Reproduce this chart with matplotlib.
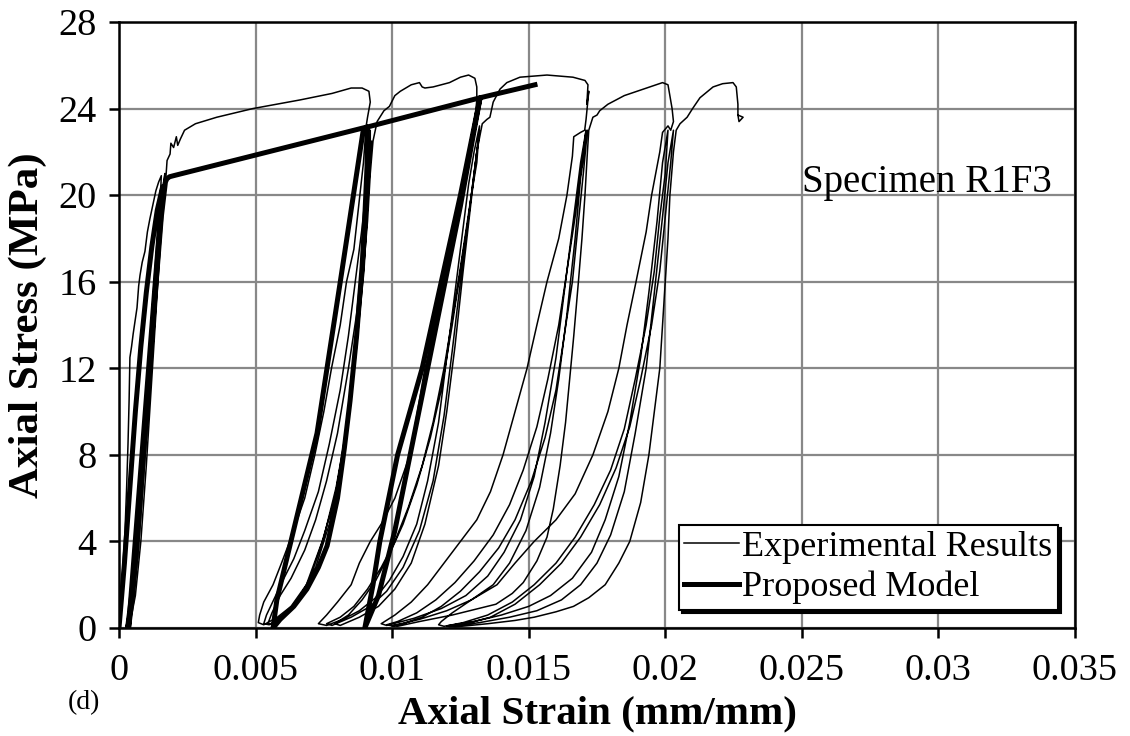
import matplotlib.pyplot as plt

plt.rcParams['font.family'] = ['Liberation Serif', 'DejaVu Serif']

# axis ticks
strain_ticks = [0, 0.005, 0.01, 0.015, 0.02, 0.025, 0.03, 0.035]
strain_labels = ['0', '0.005', '0.01', '0.015', '0.02', '0.025', '0.03', '0.035']
stress_ticks = [0, 4, 8, 12, 16, 20, 24, 28]

# ---- experimental results (strain, stress in MPa), read off the figure ----
# first cycles near the origin
exp_load0 = [(0.0, 0.0), (0.00008, 1.5), (0.00015, 3.0), (0.00022, 4.5), (0.00028, 6.5),
             (0.00033, 8.5), (0.00037, 10.5), (0.0004, 12.5), (0.00046, 13.0), (0.00052, 13.6),
             (0.0006, 14.3), (0.00066, 14.8), (0.00072, 15.8), (0.00077, 16.3), (0.00085, 16.9),
             (0.00095, 17.4), (0.00104, 18.3), (0.00113, 18.9), (0.00125, 19.6), (0.00135, 20.2),
             (0.00145, 20.6), (0.00155, 20.9)]
exp_c1 = [(0.0015, 19.5), (0.0013, 16.0), (0.0011, 12.0), (0.0009, 8.0), (0.0007, 4.5),
          (0.0005, 2.0), (0.0003, 0.3), (0.00025, 0.0), (0.0004, 1.5), (0.0006, 4.0),
          (0.0008, 7.5), (0.001, 11.0), (0.0012, 14.5), (0.0014, 18.0), (0.0016, 20.3),
          (0.00168, 21.0)]
exp_c2 = [(0.0016, 19.5), (0.0014, 15.5), (0.0012, 11.5), (0.001, 7.5), (0.0008, 4.0),
          (0.0006, 1.5), (0.0004, 0.2), (0.00035, 0.0), (0.0005, 1.2), (0.0007, 3.5),
          (0.0009, 7.0), (0.0011, 10.5), (0.0013, 14.0), (0.0015, 17.5), (0.0017, 20.5)]
exp_env1 = [(0.00176, 21.6), (0.00187, 21.9), (0.0019, 22.4), (0.002, 22.2), (0.0021, 22.7),
            (0.00215, 22.3), (0.00225, 22.6), (0.0024, 23.0), (0.0028, 23.3), (0.00358, 23.6),
            (0.0049, 24.0), (0.00663, 24.4), (0.0078, 24.7), (0.0085, 24.95), (0.0089, 24.95),
            (0.00915, 24.8), (0.0092, 24.3), (0.0091, 23.6), (0.00905, 23.2)]

# cycles around 0.009
exp_u2a = [(0.00895, 21.5), (0.00882, 20.0), (0.0086, 17.5), (0.00833, 16.0), (0.0081, 14.0),
           (0.00778, 12.0), (0.0075, 10.0), (0.00717, 8.0), (0.0068, 6.0), (0.00625, 4.0),
           (0.00595, 3.0), (0.00564, 2.0), (0.0053, 1.2), (0.00515, 0.6), (0.0051, 0.25),
           (0.0053, 0.15)]
exp_r2a = [(0.0058, 0.5), (0.0063, 1.0), (0.00686, 2.0), (0.00744, 4.0), (0.0079, 6.0),
           (0.00817, 8.0), (0.00845, 10.5), (0.00866, 12.5), (0.00885, 15.0), (0.00897, 16.5),
           (0.00906, 18.5), (0.00912, 20.0), (0.0092, 21.8), (0.0092, 23.0)]
exp_u2b = [(0.0091, 21.0), (0.0089, 18.5), (0.00865, 16.0), (0.0084, 13.5), (0.0081, 11.0),
           (0.0077, 8.5), (0.0073, 6.3), (0.0068, 4.5), (0.0064, 3.2), (0.006, 2.2),
           (0.0057, 1.4), (0.0054, 0.6), (0.0053, 0.2), (0.0055, 0.15)]
exp_r2b = [(0.006, 0.6), (0.0065, 1.2), (0.007, 2.3), (0.0075, 4.2), (0.00795, 6.5),
           (0.0083, 9.0), (0.0086, 12.0), (0.0088, 14.5), (0.009, 17.5), (0.00915, 20.5),
           (0.00925, 22.5)]
exp_u2c = [(0.0091, 20.0), (0.0089, 17.0), (0.0087, 14.5), (0.0084, 12.0), (0.008, 9.0),
           (0.0076, 6.8), (0.0072, 5.0), (0.0068, 3.6), (0.0063, 2.3), (0.0059, 1.5),
           (0.0056, 0.7), (0.00545, 0.2), (0.0057, 0.15)]
exp_r2c = [(0.0062, 0.7), (0.0067, 1.5), (0.0072, 2.8), (0.0077, 4.8), (0.0081, 7.2),
           (0.0084, 9.8), (0.0087, 13.0), (0.0089, 15.8), (0.0091, 18.8), (0.0092, 21.0),
           (0.0093, 22.5), (0.00945, 23.4), (0.0097, 23.9), (0.0099, 24.1), (0.0101, 24.6),
           (0.0103, 24.8), (0.0107, 25.1), (0.011, 25.2), (0.0111, 25.0), (0.0112, 24.95),
           (0.0115, 25.0), (0.0121, 25.2), (0.0125, 25.45), (0.0128, 25.55), (0.01303, 25.4),
           (0.0131, 25.0), (0.0131, 24.4), (0.01305, 23.7)]

# cycles around 0.013
exp_u3a = [(0.0129, 22.5), (0.0127, 21.0), (0.0125, 20.0), (0.0122, 18.0), (0.0119, 16.0),
           (0.0115, 13.5), (0.0112, 12.0), (0.0109, 9.8), (0.01065, 8.0), (0.0101, 6.0),
           (0.0096, 4.8), (0.0092, 4.0), (0.0088, 3.0), (0.0085, 2.0), (0.008, 1.2),
           (0.0076, 0.6), (0.0073, 0.2), (0.0076, 0.12)]
exp_r3a = [(0.0082, 0.4), (0.0088, 0.8), (0.0094, 1.4), (0.0099, 2.2), (0.0104, 3.3),
           (0.0109, 4.8), (0.0113, 6.8), (0.0117, 9.5), (0.012, 12.5), (0.0123, 15.5),
           (0.0126, 18.5), (0.0128, 20.5), (0.013, 22.0), (0.0132, 23.2)]
exp_u3b = [(0.0131, 21.5), (0.0129, 20.0), (0.0126, 17.5), (0.0123, 15.0), (0.0119, 12.0),
           (0.0115, 9.5), (0.0111, 7.5), (0.0106, 5.6), (0.0101, 4.0), (0.0096, 2.8),
           (0.0091, 1.8), (0.0086, 1.0), (0.0081, 0.5), (0.0076, 0.2), (0.0078, 0.12)]
exp_r3b = [(0.0085, 0.5), (0.0092, 1.0), (0.0098, 1.7), (0.0104, 2.8), (0.011, 4.5),
           (0.0115, 6.8), (0.0119, 9.8), (0.0122, 12.8), (0.0125, 16.0), (0.0128, 19.0),
           (0.01305, 21.5), (0.0132, 23.0)]
exp_u3c = [(0.013, 21.0), (0.0128, 19.0), (0.0125, 16.5), (0.0122, 14.0), (0.0118, 11.0),
           (0.0114, 8.8), (0.0109, 6.6), (0.0104, 4.8), (0.0099, 3.4), (0.0094, 2.2),
           (0.0089, 1.3), (0.0084, 0.6), (0.0079, 0.2), (0.0081, 0.12)]
exp_r3c = [(0.0088, 0.5), (0.0095, 1.0), (0.0101, 1.8), (0.0107, 3.0), (0.0112, 4.8),
           (0.0117, 7.5), (0.012, 10.0), (0.0123, 13.0), (0.0126, 16.5), (0.0129, 19.8),
           (0.0131, 22.0), (0.0133, 23.3), (0.01347, 23.5), (0.01358, 23.6), (0.0137, 24.3),
           (0.01395, 24.9), (0.0142, 25.2), (0.01468, 25.45), (0.01567, 25.55), (0.01662, 25.45),
           (0.01706, 25.3), (0.01717, 25.1), (0.01713, 24.2), (0.0172, 24.8), (0.0171, 23.5),
           (0.01705, 23.0)]

# cycles around 0.017
exp_u4a = [(0.0169, 22.9), (0.01665, 22.7), (0.0166, 21.8), (0.0164, 20.0), (0.0161, 18.0),
           (0.01567, 16.0), (0.0153, 14.0), (0.01494, 12.0), (0.0145, 10.0), (0.01406, 8.0),
           (0.0136, 6.3), (0.0131, 5.0), (0.0125, 4.0), (0.0119, 3.0), (0.0113, 2.0),
           (0.0107, 1.2), (0.0101, 0.6), (0.0096, 0.2), (0.0098, 0.12)]
exp_r4a = [(0.0108, 0.45), (0.0118, 0.9), (0.0127, 1.5), (0.0135, 2.4), (0.0141, 3.5),
           (0.0147, 5.0), (0.0152, 7.0), (0.0156, 9.5), (0.016, 12.5), (0.0163, 15.5),
           (0.0166, 18.5), (0.0169, 21.5), (0.0171, 23.0)]
exp_u4b = [(0.0169, 21.0), (0.0167, 19.0), (0.0164, 16.5), (0.0161, 14.0), (0.0157, 11.5),
           (0.0153, 9.3), (0.0148, 7.3), (0.0143, 5.7), (0.0137, 4.3), (0.013, 3.1),
           (0.0123, 2.1), (0.0116, 1.3), (0.0109, 0.7), (0.0102, 0.3), (0.0098, 0.15),
           (0.01, 0.1)]
exp_r4b = [(0.011, 0.4), (0.012, 0.8), (0.0129, 1.3), (0.0137, 2.0), (0.0143, 3.0),
           (0.0149, 4.5), (0.0154, 6.5), (0.0158, 9.0), (0.0161, 11.5), (0.0164, 14.5),
           (0.0167, 18.0), (0.0169, 20.8), (0.01715, 23.0)]
exp_u4c = [(0.017, 21.0), (0.0168, 18.5), (0.0166, 16.0), (0.0163, 13.5), (0.016, 11.0),
           (0.0156, 8.8), (0.0151, 6.8), (0.0145, 5.0), (0.0139, 3.7), (0.0132, 2.6),
           (0.0125, 1.7), (0.0118, 1.0), (0.0111, 0.5), (0.0104, 0.2), (0.01, 0.1),
           (0.0102, 0.08)]
exp_r4c = [(0.011, 0.3), (0.0122, 0.6), (0.013, 0.85), (0.0138, 1.1), (0.0144, 1.6),
           (0.0148, 2.1), (0.0153, 3.1), (0.01567, 4.2), (0.0159, 5.5), (0.01615, 7.5),
           (0.01635, 9.5), (0.0165, 11.5), (0.01665, 13.5), (0.01682, 16.0), (0.01695, 18.0),
           (0.01706, 20.0), (0.01715, 22.0), (0.0172, 23.0), (0.01735, 23.6), (0.0175, 23.7),
           (0.0176, 23.9), (0.0179, 24.2), (0.0185, 24.6), (0.0192, 24.9), (0.0199, 25.2),
           (0.0201, 25.1), (0.02025, 24.0), (0.0203, 23.4), (0.0202, 23.0)]

# cycles around 0.020 and final branch
exp_u5a = [(0.0201, 23.2), (0.0199, 22.9), (0.0198, 22.0), (0.01965, 21.0), (0.0195, 20.0),
           (0.0193, 18.3), (0.01893, 16.0), (0.0186, 14.0), (0.0183, 12.0), (0.0179, 10.0),
           (0.01735, 8.0), (0.0167, 6.2), (0.016, 5.0), (0.0152, 4.0), (0.0145, 3.0),
           (0.01384, 2.0), (0.0129, 1.3), (0.0122, 0.7), (0.0118, 0.3), (0.0117, 0.15),
           (0.0119, 0.08)]
exp_r5a = [(0.013, 0.3), (0.014, 0.6), (0.015, 1.0), (0.0158, 1.5), (0.0166, 2.3),
           (0.0173, 3.5), (0.0178, 5.0), (0.0183, 7.0), (0.0187, 9.5), (0.0191, 12.5),
           (0.0194, 15.5), (0.0197, 18.8), (0.0199, 21.5), (0.0201, 23.0)]
exp_u5b = [(0.02, 21.0), (0.0198, 19.0), (0.0196, 16.5), (0.0193, 14.0), (0.0189, 11.5),
           (0.0185, 9.2), (0.018, 7.3), (0.0174, 5.7), (0.0167, 4.2), (0.016, 3.0),
           (0.0152, 2.0), (0.0144, 1.2), (0.0135, 0.6), (0.0126, 0.25), (0.012, 0.1),
           (0.0121, 0.06)]
exp_r5b = [(0.0132, 0.25), (0.0143, 0.5), (0.0153, 0.8), (0.0162, 1.3), (0.0169, 2.0),
           (0.0175, 3.0), (0.018, 4.3), (0.0185, 6.3), (0.0189, 9.0), (0.0193, 12.0),
           (0.0196, 15.5), (0.0199, 19.0), (0.0201, 21.5), (0.0203, 23.0)]
exp_u5c = [(0.0202, 21.5), (0.02, 19.0), (0.0198, 16.5), (0.0195, 14.0), (0.0191, 11.5),
           (0.0187, 9.3), (0.0182, 7.4), (0.0176, 5.7), (0.0169, 4.2), (0.0162, 3.0),
           (0.0154, 2.0), (0.0145, 1.1), (0.0136, 0.5), (0.0127, 0.2), (0.0121, 0.08),
           (0.0123, 0.05)]
exp_r5c = [(0.0135, 0.2), (0.0145, 0.35), (0.0152, 0.5), (0.016, 0.75), (0.01664, 1.0),
           (0.0172, 1.4), (0.0178, 2.0), (0.0183, 3.0), (0.0187, 4.0), (0.0191, 5.8),
           (0.0194, 8.0), (0.0196, 10.0), (0.0198, 12.0), (0.0199, 14.0), (0.02, 16.0),
           (0.0201, 18.0), (0.02017, 20.0), (0.0203, 22.0), (0.0204, 23.0), (0.02054, 23.3),
           (0.0208, 23.6), (0.021, 24.0), (0.02127, 24.5), (0.02175, 25.0), (0.0221, 25.15),
           (0.02248, 25.2), (0.0226, 25.0), (0.02266, 24.2), (0.02266, 23.7), (0.02285, 23.6),
           (0.0227, 23.4), (0.02266, 23.7)]

# ---- proposed model ----
model_load = [(0.0, 0.0), (0.0002, 3.0), (0.0004, 6.5), (0.0006, 10.0), (0.0008, 13.0),
              (0.001, 15.5), (0.0012, 17.6), (0.0014, 19.3), (0.0016, 20.4)]
model_c1 = [(0.00035, 0.0), (0.0005, 1.5), (0.0007, 4.5), (0.0009, 8.0), (0.0011, 11.5),
            (0.0013, 15.0), (0.00155, 19.0), (0.0017, 20.6)]
model_env1 = [(0.00175, 20.75), (0.00185, 20.85), (0.002, 20.9), (0.00908, 23.15)]
model_c2 = [(0.00893, 22.9), (0.00809, 15.9), (0.00725, 9.0), (0.00637, 4.4), (0.00578, 1.3),
            (0.00564, 0.0), (0.0059, 0.4), (0.0064, 1.0), (0.00688, 1.8), (0.0073, 2.8),
            (0.00762, 3.8), (0.008, 6.0), (0.00825, 8.3), (0.00846, 10.5), (0.0087, 13.5),
            (0.0089, 16.7), (0.009, 19.0), (0.00908, 21.3), (0.0091, 23.15)]
model_env2 = [(0.01322, 24.5)]
model_c3 = [(0.0125, 20.0), (0.0118, 16.0), (0.0111, 12.0), (0.0102, 8.0), (0.00955, 4.0),
            (0.0093, 2.0), (0.009, 0.0), (0.0095, 1.5), (0.0101, 4.5), (0.0109, 9.5),
            (0.0117, 14.5), (0.0125, 19.5), (0.01322, 24.5)]
model_env3 = [(0.01523, 25.1)]

exp_path = (exp_load0 + exp_c1 + exp_c2 + exp_env1 + exp_u2a + exp_r2a + exp_u2b + exp_r2b
            + exp_u2c + exp_r2c + exp_u3a + exp_r3a + exp_u3b + exp_r3b + exp_u3c + exp_r3c
            + exp_u4a + exp_r4a + exp_u4b + exp_r4b + exp_u4c + exp_r4c
            + exp_u5a + exp_r5a + exp_u5b + exp_r5b + exp_u5c + exp_r5c)
model_path = (model_load + model_c1 + model_env1 + model_c2 + model_env2
              + model_c3 + model_env3)

exp_x, exp_y = zip(*exp_path)
mod_x, mod_y = zip(*model_path)

fig = plt.figure(figsize=(11.3, 7.36), dpi=100)
ax = fig.add_axes([0.1053, 0.1467, 0.8460, 0.8234])

ax.plot(exp_x, exp_y, color='black', lw=1.1, label='Experimental Results', zorder=3)
ax.plot(mod_x, mod_y, color='black', lw=3.6, label='Proposed Model', zorder=4,
        solid_joinstyle='round')

ax.set_xlim(0, 0.035)
ax.set_ylim(0, 28)
ax.set_xticks(strain_ticks)
ax.set_xticklabels(strain_labels)
ax.set_yticks(stress_ticks)
ax.grid(True, color='#888888', lw=1.6)
ax.set_axisbelow(True)
for sp in ax.spines.values():
    sp.set_linewidth(1.8)
    sp.set_color('black')
ax.tick_params(axis='both', direction='out', length=7, width=1.8, labelsize=27.5, pad=11)
ax.tick_params(axis='y', pad=9)

ax.set_xlabel('Axial Strain (mm/mm)', fontsize=29.5, fontweight='bold', labelpad=6)
ax.set_ylabel('Axial Stress (MPa)', fontsize=31, fontweight='bold', labelpad=8)

ax.text(0.0250, 20.6, 'Specimen R1F3', fontsize=28, va='center', ha='left')
fig.text(0.06, 0.045, '(d)', fontsize=20, ha='left', va='center')

leg = ax.legend(loc='lower right', bbox_to_anchor=(0.982, 0.03), fontsize=26,
                frameon=True, fancybox=False, edgecolor='black', framealpha=1,
                handlelength=1.5, handletextpad=0.1, labelspacing=0.2, borderpad=0.15,
                borderaxespad=0.0, shadow={'color': 'black', 'alpha': 1.0})
leg.get_frame().set_linewidth(1.5)

fig.savefig('out.png', dpi=100)
